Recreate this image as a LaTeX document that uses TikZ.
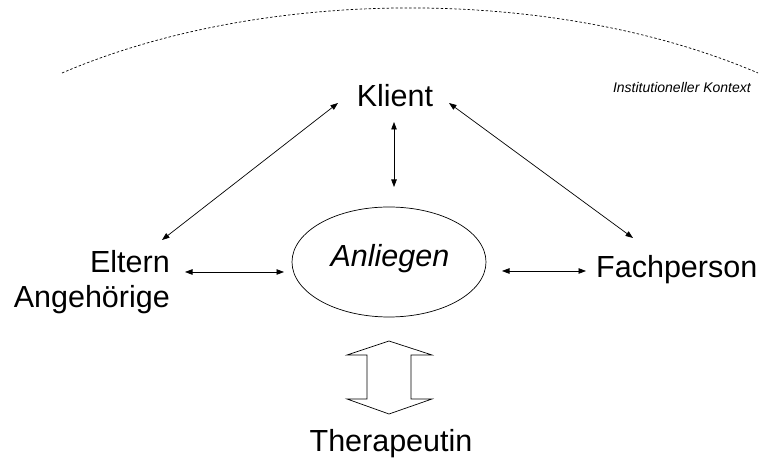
\documentclass[tikz,border=0pt]{standalone}
\usepackage{fontspec}
\setmainfont{Liberation Sans}
\usetikzlibrary{arrows.meta,shapes.geometric}
\begin{document}
\begin{tikzpicture}[x=1pt,y=1pt,
  lbl/.style={inner sep=0pt,font=\fontsize{30.5}{35}\selectfont},
  dbl/.style={{Triangle[length=7.5pt,width=5.5pt]}-{Triangle[length=7.5pt,width=5.5pt]},line width=0.7pt},
  ctx/.style={dash pattern=on 2.5pt off 2pt,line width=0.7pt}]
\useasboundingbox (0,0) rectangle (762,462);
% institutional context arc
\draw[ctx] (62,389) arc[start angle=129,end angle=51,x radius=553,y radius=292];
\node[inner sep=0pt,anchor=base east,font=\fontsize{14}{16}\selectfont\itshape] (ik) at (751,369) {Institutioneller Kontext};
% nodes
\node[lbl,anchor=base] (kl) at (395,355) {Klient};
\node[ellipse,draw,line width=0.7pt,minimum width=194pt,minimum height=110pt,inner sep=0pt] (an) at (389,200) {};
\node[lbl,anchor=base,font=\fontsize{30.5}{35}\selectfont\itshape] (ant) at (390,195) {Anliegen};
\node[lbl,anchor=base east,align=right] (el) at (170,154) {Eltern\\Angehörige};
\node[lbl,anchor=base west] (fp) at (596,184) {Fachperson};
\node[lbl,anchor=base] (th) at (391,10) {Therapeutin};
% arrow end points
\coordinate (kel) at (338,359);
\coordinate (elk) at (162,222);
\coordinate (kfp) at (449,359);
\coordinate (fpk) at (633,224);
\coordinate (kan) at (394,340);
\coordinate (ank) at (394,275);
\coordinate (ela) at (185,190);
\coordinate (ael) at (284,190);
\coordinate (afp) at (502,191);
\coordinate (fpa) at (586,191);
% connectors
\draw[dbl] (kel) -- (elk);
\draw[dbl] (kfp) -- (fpk);
\draw[dbl] (kan) -- (ank);
\draw[dbl] (ela) -- (ael);
\draw[dbl] (afp) -- (fpa);
% hollow double arrow
\draw[line width=0.7pt,line join=miter] (389,121) -- (432,107) -- (411,107) -- (411,63) -- (432,63) -- (389,48)
  -- (347,63) -- (367,63) -- (367,107) -- (347,107) -- cycle;
\end{tikzpicture}
\end{document}
